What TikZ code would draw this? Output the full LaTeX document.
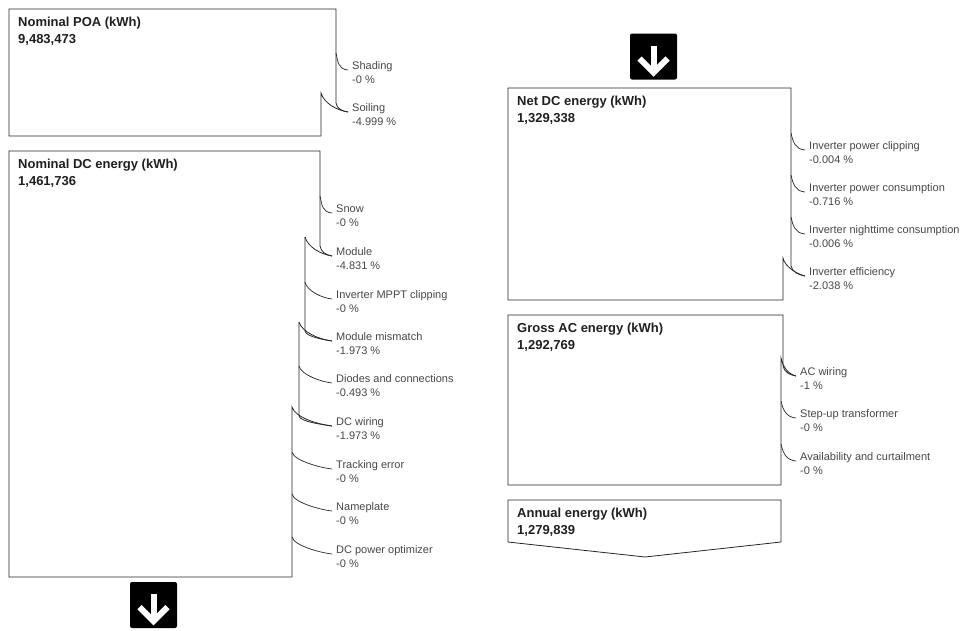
\documentclass[tikz,border=0pt]{standalone}
\usepackage{fontspec}
\setmainfont{Liberation Sans}
\usetikzlibrary{calc}
\newcommand\losslbl[5]{%
  \node[lbl] (#1) at (#2,#3+4) {#4};
  \node[lbl] (#1v) at (#2,#3+18.5) {#5};}
\newcommand\losscrv[3]{%
  \draw[conn] (#1,#3-12) .. controls +(2,9) and +(-10,-1) .. ($(#2.base west)+(-4,1)$);}
\begin{document}
\begin{tikzpicture}[x=1pt,y=-1pt,
  box/.style={draw=black!85, line width=0.8pt},
  conn/.style={draw=black!85, line width=0.7pt},
  ttl/.style={anchor=base west, inner sep=0pt, font=\fontsize{13}{15}\selectfont\bfseries, text=black!88},
  lbl/.style={anchor=base west, inner sep=0pt, font=\fontsize{11}{13}\selectfont, text=black!72},
  icon/.style={fill=black, rounded corners=2pt},
  arrw/.style={draw=white, line width=6pt, line join=miter}]
\useasboundingbox (0,0) rectangle (962,630);

% ---------- titles ----------
\node[ttl] (poaT) at (18,26) {Nominal POA (kWh)};
\node[ttl] (poaV) at (18,43) {9,483,473};
\node[ttl] (dcT) at (18,168) {Nominal DC energy (kWh)};
\node[ttl] (dcV) at (18,185) {1,461,736};
\node[ttl] (ndcT) at (517,105) {Net DC energy (kWh)};
\node[ttl] (ndcV) at (517,122) {1,329,338};
\node[ttl] (gacT) at (517,332) {Gross AC energy (kWh)};
\node[ttl] (gacV) at (517,349) {1,292,769};
\node[ttl] (annT) at (517,517) {Annual energy (kWh)};
\node[ttl] (annV) at (517,534) {1,279,839};

% ---------- loss labels ----------
\losslbl{shad}{352}{65}{Shading}{-0 \%}
\losslbl{soil}{352}{107}{Soiling}{-4.999 \%}

\losslbl{snow}{336}{208}{Snow}{-0 \%}
\losslbl{modl}{336}{251}{Module}{-4.831 \%}
\losslbl{mppt}{336}{294}{Inverter MPPT clipping}{-0 \%}
\losslbl{mism}{336}{336}{Module mismatch}{-1.973 \%}
\losslbl{diod}{336}{378}{Diodes and connections}{-0.493 \%}
\losslbl{dcw}{336}{421}{DC wiring}{-1.973 \%}
\losslbl{trk}{336}{464}{Tracking error}{-0 \%}
\losslbl{npl}{336}{506}{Nameplate}{-0 \%}
\losslbl{opt}{336}{549}{DC power optimizer}{-0 \%}

\losslbl{clip}{809}{145}{Inverter power clipping}{-0.004 \%}
\losslbl{cons}{809}{187}{Inverter power consumption}{-0.716 \%}
\losslbl{night}{809}{229}{Inverter nighttime consumption}{-0.006 \%}
\losslbl{eff}{809}{271}{Inverter efficiency}{-2.038 \%}

\losslbl{acw}{800}{371}{AC wiring}{-1 \%}
\losslbl{xfm}{800}{413}{Step-up transformer}{-0 \%}
\losslbl{avl}{800}{456}{Availability and curtailment}{-0 \%}

% ---------- Nominal POA box ----------
\draw[box] (321,136) -- (9,136) -- (9,9) -- (336,9) -- (336,103) .. controls +(1,6) and +(-6,-1) .. ($(soil.base west)+(-4,1)$);
\draw[box] (321,136) -- (321,93) .. controls +(3,10) and +(-12,-2) .. ($(soil.base west)+(-4,1)$);
\losscrv{336}{shad}{65}

% ---------- Nominal DC box ----------
\draw[box] (292,577) -- (9,577) -- (9,151) -- (320,151) -- (320,246) .. controls +(1,6) and +(-6,-1) .. ($(modl.base west)+(-4,1)$);
\draw[box] (305,237) .. controls +(3,10) and +(-12,-2) .. ($(modl.base west)+(-4,1)$);
\draw[box] (305,237) -- (305,331) .. controls +(1,6) and +(-6,-1) .. ($(mism.base west)+(-4,1)$);
\draw[box] (299,322) .. controls +(3,10) and +(-14,-2) .. ($(mism.base west)+(-4,1)$);
\draw[box] (299,322) -- (299,416) .. controls +(1,6) and +(-6,-1) .. ($(dcw.base west)+(-4,1)$);
\draw[box] (292,577) -- (292,407) .. controls +(3,10) and +(-16,-2) .. ($(dcw.base west)+(-4,1)$);
\losscrv{320}{snow}{208}
\losscrv{305}{mppt}{294}
\losscrv{299}{diod}{378}
\losscrv{292}{trk}{464}
\losscrv{292}{npl}{506}
\losscrv{292}{opt}{549}

% ---------- Net DC box ----------
\draw[box] (783,300) -- (508,300) -- (508,88) -- (791,88) -- (791,266) .. controls +(1,6) and +(-6,-1) .. ($(eff.base west)+(-4,1)$);
\draw[box] (783,300) -- (783,258) .. controls +(2,9) and +(-8,-2) .. ($(eff.base west)+(-4,1)$);
\losscrv{791}{clip}{145}
\losscrv{791}{cons}{187}
\losscrv{791}{night}{229}

% ---------- Gross AC box ----------
\draw[box] (781,485) -- (508,485) -- (508,315) -- (783,315) -- (783,366) .. controls +(1,6) and +(-6,-1) .. ($(acw.base west)+(-4,1)$);
\draw[box] (781,485) -- (781,358) .. controls +(2,9) and +(-8,-2) .. ($(acw.base west)+(-4,1)$);
\losscrv{781}{xfm}{413}
\losscrv{781}{avl}{456}

% ---------- Annual energy box ----------
\draw[box] (508,500) -- (781,500) -- (781,542) -- (645,557) -- (508,542) -- cycle;

% ---------- arrow icons ----------
\node[icon, minimum width=47pt, minimum height=46pt, inner sep=0pt] (arrTop) at (653.5,56.5) {};
\draw[arrw] ($(arrTop.center)+(0,-11)$) -- ($(arrTop.center)+(0,13)$);
\draw[arrw] ($(arrTop.center)+(-14,2)$) -- ($(arrTop.center)+(0,16)$) -- ($(arrTop.center)+(14,2)$);
\node[icon, minimum width=47pt, minimum height=46pt, inner sep=0pt] (arrBot) at (153.5,605) {};
\draw[arrw] ($(arrBot.center)+(0,-11)$) -- ($(arrBot.center)+(0,13)$);
\draw[arrw] ($(arrBot.center)+(-14,2)$) -- ($(arrBot.center)+(0,16)$) -- ($(arrBot.center)+(14,2)$);
\end{tikzpicture}
\end{document}
